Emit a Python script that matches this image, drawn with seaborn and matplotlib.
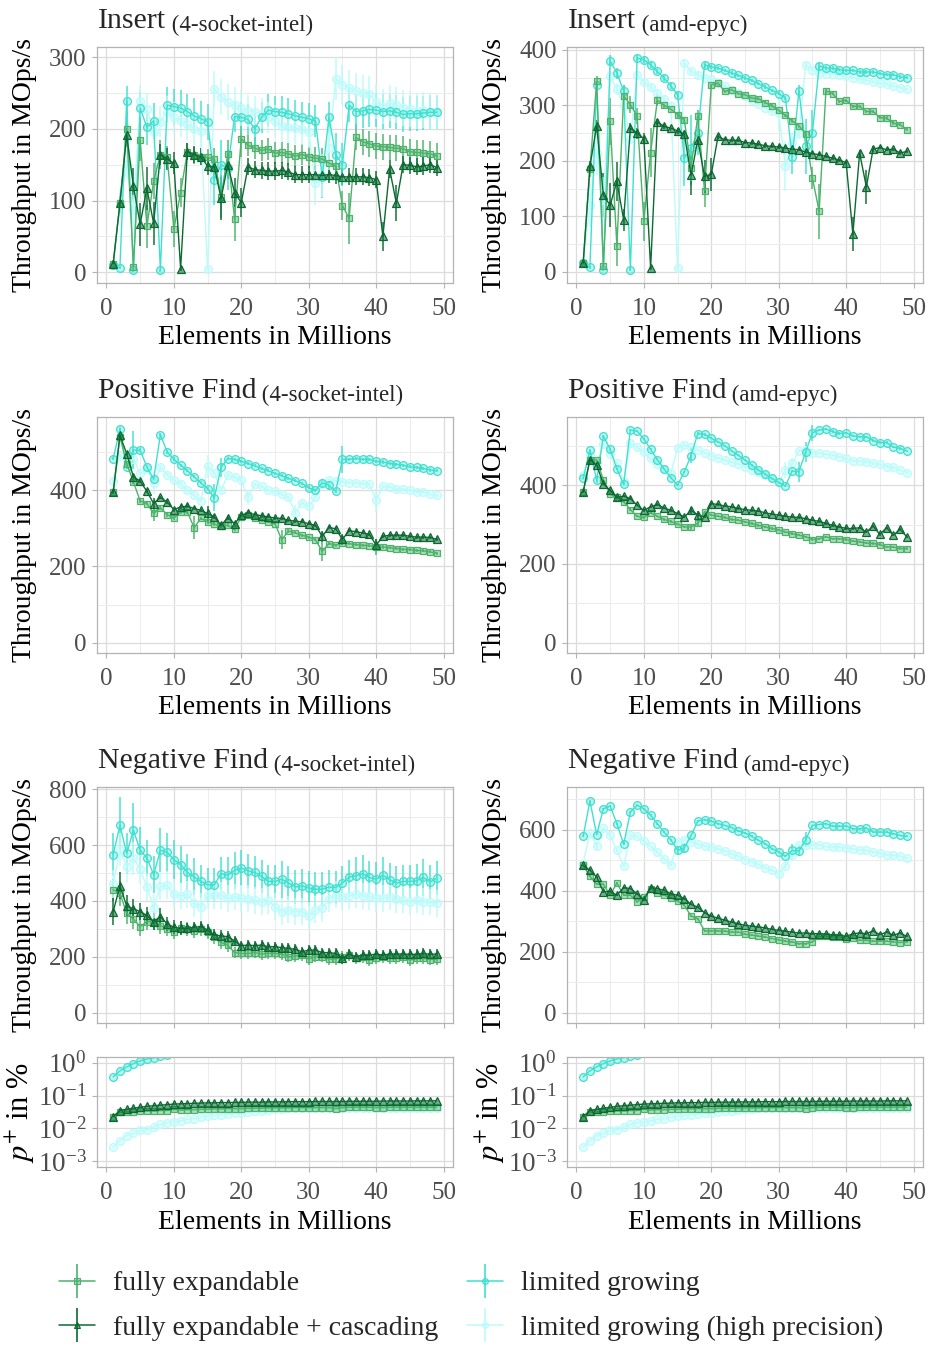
import matplotlib
matplotlib.use("Agg")
import numpy as np
import pandas as pd
import matplotlib.pyplot as plt
import seaborn as sns
from matplotlib.ticker import MultipleLocator, FixedLocator, LogFormatterMathtext, NullLocator, NullFormatter
from matplotlib.lines import Line2D
from matplotlib.collections import LineCollection
from matplotlib.container import ErrorbarContainer
from matplotlib.legend_handler import HandlerTuple, HandlerErrorbar
from matplotlib.colors import to_rgba

sns.set_theme(style="white")
plt.rcParams["font.family"] = ["Liberation Serif", "DejaVu Serif"]
plt.rcParams["mathtext.fontset"] = "stix"

# ---------------------------------------------------------------- data
elements = list(range(1, 50))  # millions of elements

FE = "fully expandable"
FEC = "fully expandable + cascading"
LG = "limited growing"
HP = "limited growing (high precision)"

# Insert, 4-socket-intel
ins_intel_fe = [12, 96, 199, 8, 185, 64, 127, 164, 161, 60, 111, 168, 163, 161, 160, 158, 105, 165, 74, 186,
                177, 173, 170, 172, 166, 167, 165, 162, 164, 161, 159, 158, 152, 148, 93, 75, 188, 182, 179, 176,
                175, 174, 173, 172, 168, 167, 166, 165, 162]
ins_intel_fec = [12, 96, 191, 120, 67, 117, 68, 164, 158, 152, 5, 168, 164, 161, 148, 147, 103, 150, 111, 97,
                 147, 143, 142, 141, 141, 142, 140, 136, 136, 136, 136, 135, 136, 135, 133, 133, 133, 133, 132, 129,
                 50, 144, 96, 150, 149, 147, 148, 150, 146]
ins_intel_lg = [10, 6, 239, 3, 229, 202, 211, 3, 233, 231, 229, 224, 218, 214, 210, 129, 150, 145, 217, 216,
                213, 200, 216, 226, 224, 223, 221, 218, 216, 214, 211, 133, 216, 164, 150, 233, 224, 225, 227, 226,
                224, 225, 223, 220, 221, 221, 222, 223, 223]
ins_intel_hp = [10, 95, 151, 87, 239, 228, 195, 210, 224, 216, 211, 207, 200, 197, 4, 255, 244, 237, 233, 229,
                225, 224, 221, 216, 211, 204, 202, 201, 199, 195, 124, 135, 173, 270, 261, 257, 253, 250, 248, 238,
                231, 236, 233, 229, 227, 225, 226, 224, 222]
ins_intel_fe_err = [5, 15, 25, 3, 30, 30, 25, 20, 15, 25, 20, 12, 12, 12, 12, 15, 30, 20, 30, 25,
                    15, 15, 15, 15, 15, 15, 15, 15, 15, 15, 15, 15, 15, 15, 20, 35, 18, 18, 18, 18,
                    18, 18, 18, 18, 18, 18, 18, 18, 18]
ins_intel_fec_err = [3, 10, 10, 25, 30, 30, 30, 15, 15, 15, 3, 12, 12, 12, 12, 12, 30, 20, 20, 20,
                     12, 12, 12, 12, 12, 12, 12, 12, 12, 12, 12, 12, 12, 12, 12, 12, 12, 12, 12, 12,
                     20, 12, 25, 12, 12, 12, 12, 12, 12]
ins_intel_lg_err = [3, 2, 20, 2, 22, 25, 25, 2, 25, 25, 25, 25, 25, 25, 25, 35, 35, 30, 22, 22,
                    22, 22, 22, 22, 22, 22, 22, 22, 22, 22, 22, 30, 22, 30, 30, 24, 24, 24, 24, 24,
                    24, 24, 24, 24, 24, 24, 24, 24, 24]
ins_intel_hp_err = [3, 20, 20, 20, 22, 22, 22, 22, 22, 22, 22, 22, 22, 22, 2, 25, 25, 25, 25, 25,
                    22, 22, 22, 22, 22, 22, 22, 22, 22, 22, 30, 30, 30, 30, 28, 25, 25, 25, 25, 25,
                    25, 25, 25, 25, 25, 25, 25, 25, 25]

# Insert, amd-epyc
ins_amd_fe = [16, 185, 343, 10, 271, 46, 317, 301, 281, 91, 215, 309, 300, 293, 283, 274, 187, 281, 146, 337,
              340, 325, 328, 321, 319, 313, 312, 305, 299, 291, 282, 272, 263, 249, 169, 109, 326, 321, 307, 309,
              298, 298, 289, 289, 278, 277, 268, 265, 256]
ins_amd_fec = [16, 190, 263, 138, 120, 163, 94, 259, 250, 240, 7, 270, 262, 259, 254, 248, 174, 238, 172, 176,
               244, 238, 237, 237, 233, 232, 230, 227, 226, 225, 223, 221, 220, 216, 213, 211, 208, 205, 201, 197,
               68, 214, 153, 221, 224, 220, 221, 214, 217]
ins_amd_lg = [16, 8, 337, 4, 380, 358, 326, 4, 385, 382, 373, 361, 349, 335, 319, 205, 223, 250, 373, 369,
              367, 363, 358, 354, 349, 345, 339, 333, 327, 321, 313, 207, 326, 226, 251, 371, 367, 367, 364, 363,
              363, 360, 360, 360, 357, 355, 355, 351, 350]
ins_amd_hp = [16, 120, 215, 130, 352, 329, 299, 240, 354, 342, 333, 322, 311, 299, 7, 376, 361, 355, 350, 347,
              341, 335, 328, 322, 316, 310, 303, 296, 289, 286, 190, 232, 250, 373, 364, 359, 357, 357, 355, 352,
              350, 347, 345, 342, 340, 338, 335, 332, 329]
ins_amd_fe_err = [3, 15, 10, 3, 42, 35, 20, 15, 15, 35, 45, 10, 5, 5, 5, 5, 30, 10, 30, 5,
                  5, 3, 3, 3, 3, 3, 3, 3, 3, 3, 3, 3, 3, 5, 20, 50, 5, 3, 3, 3,
                  3, 3, 3, 3, 3, 3, 3, 3, 3]
ins_amd_fec_err = [3, 10, 10, 40, 40, 35, 20, 10, 10, 10, 3, 5, 5, 5, 5, 5, 35, 10, 30, 30,
                   5, 3, 3, 3, 3, 3, 3, 3, 3, 3, 3, 3, 3, 3, 3, 3, 3, 3, 3, 3,
                   30, 5, 30, 5, 3, 3, 3, 3, 3]
ins_amd_lg_err = [3, 3, 10, 3, 10, 10, 10, 3, 5, 5, 5, 5, 5, 5, 5, 50, 60, 40, 5, 3,
                  3, 3, 3, 3, 3, 3, 3, 3, 3, 3, 3, 30, 10, 50, 40, 5, 3, 3, 3, 3,
                  3, 3, 3, 3, 3, 3, 3, 3, 3]
ins_amd_hp_err = [3, 40, 40, 40, 10, 10, 10, 10, 5, 5, 5, 5, 5, 5, 5, 5, 5, 5, 3, 3,
                  3, 3, 3, 3, 3, 3, 3, 3, 3, 30, 45, 20, 10, 5, 3, 3, 3, 3, 3, 3,
                  3, 3, 3, 3, 3, 3, 3, 3, 3]

# Positive find, 4-socket-intel
pos_intel_fe = [394, 540, 470, 422, 372, 365, 339, 354, 336, 327, 343, 343, 302, 326, 317, 311, 306, 308, 297, 330,
                334, 328, 321, 317, 312, 270, 293, 288, 282, 277, 270, 240, 260, 256, 262, 260, 257, 256, 254, 251,
                251, 249, 247, 245, 244, 242, 241, 238, 235]
pos_intel_fec = [394, 544, 496, 435, 424, 397, 365, 381, 369, 349, 356, 358, 352, 347, 339, 330, 308, 328, 312, 334,
                 341, 336, 333, 330, 327, 326, 321, 319, 317, 312, 308, 279, 302, 299, 271, 294, 291, 288, 284, 256,
                 279, 282, 282, 282, 279, 277, 277, 276, 271]
pos_intel_lg = [483, 560, 460, 505, 505, 461, 429, 546, 501, 481, 466, 451, 435, 419, 404, 380, 460, 483, 481, 476,
                470, 464, 457, 451, 444, 438, 431, 425, 418, 406, 400, 419, 413, 397, 481, 481, 483, 481, 481, 476,
                474, 470, 468, 466, 461, 460, 457, 453, 451]
pos_intel_hp = [425, 492, 483, 483, 444, 455, 420, 460, 441, 426, 417, 400, 387, 372, 463, 446, 400, 439, 435, 426,
                381, 416, 410, 400, 397, 389, 381, 341, 367, 358, 381, 416, 428, 424, 422, 419, 419, 417, 416, 374,
                410, 409, 404, 403, 400, 396, 396, 389, 387]
pos_intel_fe_err = [4, 5, 5, 5, 5, 5, 20, 5, 5, 5, 5, 5, 30, 5, 5, 5, 5, 5, 5, 5,
                    4, 4, 4, 4, 4, 25, 4, 4, 4, 4, 4, 25, 4, 4, 4, 4, 4, 4, 4, 20,
                    4, 4, 4, 4, 4, 4, 4, 4, 4]
pos_intel_fec_err = [4, 8, 5, 5, 5, 5, 15, 5, 5, 5, 5, 5, 5, 5, 20, 5, 5, 5, 5, 5,
                     4, 4, 4, 4, 4, 4, 4, 4, 4, 4, 4, 15, 4, 4, 15, 4, 4, 4, 4, 15,
                     4, 4, 4, 4, 4, 4, 4, 4, 4]
pos_intel_lg_err = [4, 5, 5, 50, 5, 5, 5, 5, 5, 5, 4, 4, 4, 4, 4, 35, 25, 4, 4, 4,
                    4, 4, 4, 4, 4, 4, 4, 4, 4, 4, 4, 10, 10, 4, 35, 4, 4, 4, 4, 4,
                    4, 4, 4, 4, 4, 4, 4, 4, 4]
pos_intel_hp_err = [4, 5, 5, 5, 5, 5, 30, 5, 5, 5, 4, 4, 4, 4, 30, 5, 5, 5, 5, 5,
                    20, 4, 4, 4, 4, 4, 4, 20, 4, 4, 4, 4, 4, 4, 4, 4, 4, 4, 4, 30,
                    4, 4, 4, 4, 4, 4, 4, 4, 4]

# Positive find, amd-epyc
pos_amd_fe = [383, 464, 464, 413, 377, 369, 358, 338, 321, 318, 330, 321, 313, 308, 301, 294, 294, 303, 332, 324,
              321, 318, 313, 311, 307, 303, 298, 294, 290, 286, 281, 277, 273, 269, 262, 264, 269, 264, 264, 262,
              258, 256, 253, 252, 249, 243, 243, 239, 239]
pos_amd_fec = [383, 465, 451, 403, 387, 369, 372, 366, 349, 336, 345, 351, 342, 336, 328, 319, 336, 325, 319, 353,
               351, 347, 345, 341, 338, 336, 334, 330, 326, 324, 321, 319, 318, 315, 311, 308, 303, 298, 294, 290,
               290, 292, 281, 296, 275, 292, 273, 288, 269]
pos_amd_lg = [417, 489, 413, 525, 491, 441, 402, 540, 537, 517, 491, 465, 441, 419, 400, 434, 475, 531, 529, 519,
              510, 500, 487, 476, 464, 451, 438, 428, 417, 407, 398, 436, 434, 485, 533, 540, 542, 536, 531, 533,
              525, 523, 523, 513, 508, 508, 497, 493, 487]
pos_amd_hp = [425, 476, 455, 505, 480, 455, 410, 506, 496, 483, 468, 453, 440, 430, 495, 503, 497, 489, 482, 475,
              469, 464, 458, 453, 447, 438, 434, 425, 417, 408, 438, 455, 487, 489, 482, 482, 479, 476, 472, 468,
              462, 461, 460, 455, 453, 447, 445, 438, 432]
pos_amd_fe_err = [3] * 16 + [8, 8] + [3] * 31
pos_amd_fec_err = [3, 10] + [3] * 14 + [8, 10] + [3] * 31
pos_amd_lg_err = [3, 3, 8] + [3] * 12 + [3, 20] + [3] * 14 + [3, 25, 25, 20] + [3] * 15
pos_amd_hp_err = [3, 3, 10] + [3] * 27 + [20, 15] + [3] * 17

# Negative find, 4-socket-intel
neg_intel_fe = [440, 428, 356, 335, 308, 326, 326, 312, 300, 290, 302, 299, 294, 299, 290, 272, 252, 242, 215, 212,
                212, 215, 210, 212, 212, 210, 200, 203, 206, 192, 200, 200, 192, 192, 200, 206, 194, 198, 188, 194,
                198, 194, 194, 198, 188, 194, 194, 190, 192]
neg_intel_fec = [362, 454, 382, 372, 362, 348, 326, 344, 318, 306, 302, 302, 306, 308, 296, 278, 275, 272, 257, 240,
                 242, 240, 242, 236, 236, 233, 230, 227, 218, 224, 224, 215, 215, 212, 194, 210, 200, 206, 206, 210,
                 206, 210, 210, 210, 209, 209, 212, 209, 210]
neg_intel_lg = [566, 671, 570, 653, 582, 554, 494, 582, 574, 548, 530, 502, 486, 470, 458, 458, 498, 492, 510, 518,
                508, 502, 488, 470, 470, 478, 464, 450, 454, 446, 442, 442, 450, 448, 464, 486, 490, 498, 484, 478,
                492, 476, 464, 470, 470, 472, 484, 468, 482]
neg_intel_hp = [460, 584, 522, 552, 514, 450, 374, 452, 456, 424, 418, 424, 392, 380, 420, 420, 420, 410, 414, 410,
                408, 402, 398, 402, 380, 362, 368, 362, 362, 347, 368, 374, 408, 422, 414, 418, 424, 418, 416, 410,
                410, 414, 406, 404, 398, 404, 398, 396, 392]
neg_intel_fe_err = [40, 45, 40, 35, 35, 30, 30, 30, 25, 25, 25, 25, 25, 25, 25, 25, 25, 25, 20, 20,
                    20, 20, 20, 20, 20, 20, 20, 20, 20, 20, 20, 20, 20, 20, 20, 20, 20, 20, 20, 20,
                    20, 20, 20, 20, 20, 20, 20, 20, 20]
neg_intel_fec_err = [48, 48, 40, 35, 30, 30, 30, 30, 25, 25, 25, 20, 20, 20, 20, 20, 20, 20, 18, 18,
                     18, 18, 18, 18, 18, 18, 18, 18, 18, 18, 18, 18, 18, 18, 18, 18, 18, 18, 18, 18,
                     18, 18, 18, 18, 18, 18, 18, 18, 18]
neg_intel_lg_err = [78, 100, 72, 96, 84, 66, 66, 80, 70, 70, 66, 66, 66, 60, 60, 60, 60, 66, 66, 66,
                    60, 60, 60, 60, 60, 66, 60, 60, 60, 60, 60, 60, 60, 60, 60, 60, 66, 66, 60, 60,
                    66, 60, 60, 60, 60, 60, 66, 60, 60]
neg_intel_hp_err = [50, 60, 54, 60, 54, 50, 50, 50, 50, 50, 48, 48, 48, 48, 48, 48, 48, 48, 48, 48,
                    48, 48, 48, 48, 48, 48, 48, 48, 48, 48, 48, 48, 48, 48, 48, 48, 48, 48, 48, 48,
                    48, 48, 48, 48, 48, 48, 48, 48, 48]

# Negative find, amd-epyc
neg_amd_fe = [483, 447, 421, 421, 385, 425, 385, 385, 363, 379, 407, 392, 385, 377, 366, 352, 317, 308, 268, 268,
              268, 267, 264, 264, 257, 254, 251, 248, 243, 239, 234, 232, 226, 226, 232, 250, 250, 248, 248, 243,
              245, 237, 237, 234, 235, 234, 232, 230, 232]
neg_amd_fec = [483, 467, 445, 396, 398, 385, 410, 407, 390, 368, 410, 407, 401, 390, 385, 374, 355, 346, 328, 316,
               310, 303, 297, 292, 286, 284, 281, 278, 273, 270, 267, 264, 261, 261, 259, 259, 257, 254, 254, 250,
               259, 261, 259, 268, 256, 264, 254, 261, 250]
neg_amd_lg = [578, 694, 584, 669, 677, 620, 552, 658, 680, 669, 647, 620, 592, 567, 532, 541, 581, 628, 633, 628,
              620, 614, 607, 596, 589, 578, 565, 554, 538, 527, 513, 532, 530, 567, 614, 617, 620, 611, 611, 612,
              603, 603, 605, 592, 592, 592, 587, 581, 578]
neg_amd_hp = [489, 589, 545, 605, 581, 532, 480, 581, 578, 562, 545, 527, 505, 483, 560, 567, 560, 552, 546, 543,
              536, 530, 521, 513, 502, 494, 486, 474, 467, 456, 480, 516, 549, 549, 551, 551, 545, 543, 543, 540,
              538, 534, 532, 527, 523, 518, 516, 513, 507]
neg_amd_fe_err = [3] * 49
neg_amd_fec_err = [3] * 49
neg_amd_lg_err = [3] * 14 + [15, 15] + [3] * 15 + [20, 15, 25] + [3] * 15
neg_amd_hp_err = [3, 3, 15] + [3] * 27 + [10, 20] + [3] * 17

# Share of elements stored in the overflow structure, in percent
pplus_fe = [0.023, 0.031, 0.032, 0.032, 0.033, 0.034, 0.034, 0.035, 0.035, 0.038, 0.036, 0.037, 0.037, 0.038,
            0.038, 0.039, 0.039, 0.040, 0.040, 0.040, 0.041, 0.041, 0.041, 0.042, 0.042, 0.042, 0.042, 0.043,
            0.043, 0.043, 0.043, 0.043, 0.043, 0.040, 0.043, 0.044, 0.044, 0.044, 0.044, 0.043, 0.043, 0.044,
            0.044, 0.044, 0.044, 0.044, 0.044, 0.044, 0.044]
pplus_fec = [0.023, 0.035, 0.038, 0.041, 0.044, 0.047, 0.049, 0.051, 0.053, 0.055, 0.056, 0.057, 0.058, 0.059,
             0.060, 0.060, 0.061, 0.061, 0.062, 0.062, 0.063, 0.063, 0.063, 0.064, 0.064, 0.064, 0.065, 0.065,
             0.065, 0.065, 0.066, 0.066, 0.066, 0.066, 0.066, 0.067, 0.067, 0.067, 0.067, 0.067, 0.068, 0.068,
             0.068, 0.068, 0.068, 0.069, 0.069, 0.069, 0.069]
pplus_lg = [0.37, 0.56, 0.74, 0.93, 1.12, 1.29, 1.40, 1.55, 1.70]
pplus_hp = [0.0027, 0.0043, 0.0061, 0.0071, 0.0087, 0.0091, 0.011, 0.0134, 0.015, 0.016, 0.017, 0.019, 0.020,
            0.022, 0.024, 0.025, 0.026, 0.027, 0.029, 0.030, 0.031, 0.033, 0.034, 0.036, 0.038, 0.040, 0.041,
            0.042, 0.042, 0.043, 0.043, 0.043, 0.043, 0.043, 0.043, 0.043, 0.043, 0.043, 0.043, 0.043, 0.043,
            0.043, 0.043, 0.043, 0.043, 0.043, 0.043, 0.043, 0.043]

# ---------------------------------------------------------------- style
legend_order = [FE, FEC, LG, HP]
draw_order = [HP, LG, FE, FEC]
palette = {FE: "#4db26b", FEC: "#0b6a32", LG: "#40e0d0", HP: "#bcfbfb"}
marker_map = {FE: "s", FEC: "^", LG: "o", HP: "o"}
marker_size = {FE: 5.0, FEC: 6.0, LG: 5.6, HP: 5.6}
face_alpha = {FE: 0.45, FEC: 0.55, LG: 0.35, HP: 0.45}

TICK_COLOR = "#4d4d4d"
FRAME = "#b3b3b3"
GRID_MAJOR = "#dcdcdc"
GRID_MINOR = "#ececec"

W, H = 929, 1347
fig = plt.figure(figsize=(W / 100, H / 100), dpi=100)


def ax_rect(left, top, right, bottom):
    return [left / W, 1 - bottom / H, (right - left) / W, (bottom - top) / H]


col_x = [(97, 453), (567, 923)]
row_y = [(47, 283), (417, 653), (787, 1023), (1057, 1167)]


def style_axes(ax, ylim, ymajor, yminor, show_xlabels=True, xlabel=True):
    ax.set_xlim(-1.4, 51.4)
    ax.set_ylim(*ylim)
    ax.xaxis.set_major_locator(MultipleLocator(10))
    ax.xaxis.set_minor_locator(MultipleLocator(5))
    if ymajor is not None:
        ax.yaxis.set_major_locator(MultipleLocator(ymajor))
        ax.yaxis.set_minor_locator(MultipleLocator(yminor))
    ax.set_axisbelow(True)
    ax.grid(which="major", color=GRID_MAJOR, linewidth=0.9)
    ax.grid(which="minor", color=GRID_MINOR, linewidth=0.7)
    for s in ax.spines.values():
        s.set_color(FRAME)
        s.set_linewidth(0.9)
    ax.tick_params(which="major", direction="out", length=3.5, width=0.8, color=FRAME,
                   labelsize=18, labelcolor=TICK_COLOR, pad=4, left=True, bottom=True)
    ax.tick_params(axis="x", which="major", pad=7.5)
    ax.tick_params(which="minor", length=0, left=False, bottom=False)
    if not show_xlabels:
        ax.tick_params(axis="x", labelbottom=False)
    ax.set_xlabel("Elements in Millions" if xlabel else "", fontsize=20, color="black")


def add_title(ax, main, machine):
    t1 = ax.annotate(main, xy=(0, 1), xycoords="axes fraction", xytext=(0.5, 13.5),
                     textcoords="offset points", fontsize=21.5, ha="left", va="baseline")
    ax.annotate(" (" + machine + ")", xy=(1, 0), xycoords=t1, xytext=(0, -1.2),
                textcoords="offset points", fontsize=16.5, ha="left", va="bottom")


def fit_errors(errs, n):
    errs = list(errs)
    return (errs + [errs[-1]] * n)[:n]


def draw_series(ax, series):
    frames = []
    for name, (vals, errs) in series.items():
        xs = elements[:len(vals)]
        frames.append(pd.DataFrame({"elements": xs, "value": vals, "variant": name}))
        if errs is not None:
            ax.errorbar(xs, vals, yerr=fit_errors(errs, len(vals)), fmt="none", ecolor=palette[name],
                        elinewidth=1.4, alpha=0.75, zorder=1.6)
    df = pd.concat(frames, ignore_index=True)
    n0 = len(ax.lines)
    sns.lineplot(data=df, x="elements", y="value", hue="variant", hue_order=draw_order,
                 style="variant", style_order=draw_order, markers=marker_map, dashes=False,
                 palette=palette, estimator=None, sort=False, legend=False, linewidth=1.0, ax=ax,
                 zorder=2)
    for line, name in zip(ax.lines[n0:], draw_order):
        c = palette[name]
        line.set_markerfacecolor(to_rgba(c, face_alpha[name]))
        line.set_markeredgecolor(c)
        line.set_markeredgewidth(0.9)
        line.set_markersize(marker_size[name])


panels = [
    ("Insert", "4-socket-intel", 0, 0, (-15, 314), 100, 50,
     {FE: (ins_intel_fe, ins_intel_fe_err), FEC: (ins_intel_fec, ins_intel_fec_err),
      LG: (ins_intel_lg, ins_intel_lg_err), HP: (ins_intel_hp, ins_intel_hp_err)}),
    ("Insert", "amd-epyc", 0, 1, (-20, 405), 100, 50,
     {FE: (ins_amd_fe, ins_amd_fe_err), FEC: (ins_amd_fec, ins_amd_fec_err),
      LG: (ins_amd_lg, ins_amd_lg_err), HP: (ins_amd_hp, ins_amd_hp_err)}),
    ("Positive Find", "4-socket-intel", 1, 0, (-27, 592), 200, 100,
     {FE: (pos_intel_fe, pos_intel_fe_err), FEC: (pos_intel_fec, pos_intel_fec_err),
      LG: (pos_intel_lg, pos_intel_lg_err), HP: (pos_intel_hp, pos_intel_hp_err)}),
    ("Positive Find", "amd-epyc", 1, 1, (-26, 573), 200, 100,
     {FE: (pos_amd_fe, pos_amd_fe_err), FEC: (pos_amd_fec, pos_amd_fec_err),
      LG: (pos_amd_lg, pos_amd_lg_err), HP: (pos_amd_hp, pos_amd_hp_err)}),
    ("Negative Find", "4-socket-intel", 2, 0, (-37, 808), 200, 100,
     {FE: (neg_intel_fe, neg_intel_fe_err), FEC: (neg_intel_fec, neg_intel_fec_err),
      LG: (neg_intel_lg, neg_intel_lg_err), HP: (neg_intel_hp, neg_intel_hp_err)}),
    ("Negative Find", "amd-epyc", 2, 1, (-34, 740), 200, 100,
     {FE: (neg_amd_fe, neg_amd_fe_err), FEC: (neg_amd_fec, neg_amd_fec_err),
      LG: (neg_amd_lg, neg_amd_lg_err), HP: (neg_amd_hp, neg_amd_hp_err)}),
]

YLABEL_X = -0.168
for main, machine, r, c, ylim, ymaj, ymin, series in panels:
    (l, rr), (t, b) = col_x[c], row_y[r]
    ax = fig.add_axes(ax_rect(l, t, rr, b))
    draw_series(ax, series)
    style_axes(ax, ylim, ymaj, ymin, show_xlabels=(r < 2), xlabel=(r < 2))
    ax.set_ylabel("Throughput in MOps/s", fontsize=20, color="black")
    ax.yaxis.set_label_coords(YLABEL_X, 0.5)
    ax.xaxis.set_label_coords(0.5, -0.18)
    add_title(ax, main, machine)

# overflow share panels (identical measurement for both machines)
for c in range(2):
    (l, rr), (t, b) = col_x[c], row_y[3]
    ax = fig.add_axes(ax_rect(l, t, rr, b))
    ax.set_yscale("log")
    draw_series(ax, {FE: (pplus_fe, None), FEC: (pplus_fec, None),
                     LG: (pplus_lg, None), HP: (pplus_hp, None)})
    style_axes(ax, (10 ** -3.17, 10 ** 0.17), None, None)
    ax.yaxis.set_major_locator(FixedLocator([1e-3, 1e-2, 1e-1, 1e0]))
    ax.yaxis.set_major_formatter(LogFormatterMathtext())
    ax.yaxis.set_minor_locator(NullLocator())
    ax.yaxis.set_minor_formatter(NullFormatter())
    ax.tick_params(axis="y", labelsize=19.5)
    ax.set_ylabel(r"$p^{+}$ in %", fontsize=22, color="black")
    ax.yaxis.set_label_coords(YLABEL_X, 0.5)
    ax.xaxis.set_label_coords(0.5, -0.39)

# ---------------------------------------------------------------- legend
def legend_handle(name):
    c = palette[name]
    line = Line2D([], [], color=c, linewidth=1.1, marker=marker_map[name], markersize=4.2,
                  markerfacecolor=to_rgba(c, face_alpha[name]), markeredgecolor=c, markeredgewidth=0.8)
    bar = ErrorbarContainer((None, (), (LineCollection([], colors=[c], linewidths=1.2),)),
                            has_xerr=False, has_yerr=True)
    return (bar, line)


hmap = {ErrorbarContainer: HandlerErrorbar(xerr_size=0.5, yerr_size=0.62), tuple: HandlerTuple(ndivide=1)}
for names, xpos in (([FE, FEC], 59), ([LG, HP], 467)):
    fig.legend([legend_handle(n) for n in names], names, loc="upper left",
               bbox_to_anchor=(xpos / W, 1 - 1271 / H), frameon=False, fontsize=20,
               handlelength=1.3, handletextpad=0.65, labelspacing=0.68, borderpad=0,
               borderaxespad=0, handler_map=hmap)

fig.savefig("out.png", dpi=100)
